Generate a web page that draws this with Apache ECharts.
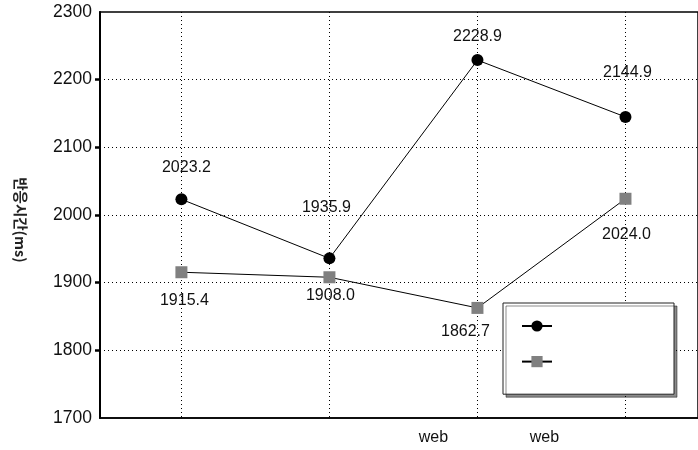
<!DOCTYPE html>
<html><head><meta charset="utf-8">
<script src="https://cdn.jsdelivr.net/npm/echarts@6/dist/echarts.min.js"></script>
<style>html,body{margin:0;padding:0;background:#fff}#c{width:698px;height:450px}</style>
</head><body><div id="c"></div>
<script>
// ---- data ----
const categoryIndex = [0, 1, 2, 3];
const xTickLabels = ['', '', 'web', 'web'];
const seriesNames = ['계열1', '계열2'];
const seriesA = [2023.2, 1935.9, 2228.9, 2144.9];
const seriesB = [1915.4, 1908.0, 1862.7, 2024.0];
const yMin = 1700, yMax = 2300, yStep = 100;
const yTickMarks = [1800, 1900, 2000, 2100, 2200];

// ---- styling helpers (label placement) ----
const labelOffsetA = [[5, -32], [-3, -51], [0, -24], [2, -44]];
const labelOffsetB = [[3, 28], [1, 18], [-12, 24], [1, 36]];
const xLabelShift = [0, 0, -44, -81];

const rich = {};
xLabelShift.forEach((s, i) => {
  rich['s' + i] = { fontSize: 16, color: '#111', fontFamily: 'Liberation Sans, Arial, sans-serif',
    padding: [0, Math.max(0, -2 * s), 0, Math.max(0, 2 * s)] };
});

function mk(vals, offs) {
  return vals.map((v, i) => ({ value: [categoryIndex[i], v], label: { offset: offs[i] } }));
}

const chart = echarts.init(document.getElementById('c'), null, { renderer: 'canvas' });
chart.setOption({
  animation: false,
  backgroundColor: '#fff',
  textStyle: { fontFamily: 'Liberation Sans, Arial, sans-serif' },
  grid: { left: 100, right: -2, top: 12, bottom: 32, show: true, borderColor: '#000', borderWidth: 1.5, backgroundColor: 'transparent' },
  legend: {
    left: 503, top: 303, orient: 'vertical',
    itemWidth: 30, itemHeight: 14, itemGap: 23,
    padding: [16, 121, 27, 18],
    backgroundColor: '#fff', borderColor: '#222', borderWidth: 1,
    shadowColor: 'rgba(0,0,0,0.45)', shadowOffsetX: 3, shadowOffsetY: 3, shadowBlur: 0,
    formatter: () => '',
    textStyle: { fontSize: 12 },
    data: seriesNames
  },
  xAxis: {
    type: 'value', min: -0.55, max: 3.49,
    axisLine: { show: true, onZero: false, lineStyle: { color: '#000', width: 1.5 } },
    axisTick: { show: false, customValues: categoryIndex },
    splitLine: { show: true, lineStyle: { color: '#000', type: [1, 3], width: 1 } },
    axisLabel: {
      customValues: categoryIndex, margin: 12,
      formatter: v => { const i = Math.round(v); return xTickLabels[i] ? '{s' + i + '|' + xTickLabels[i] + '}' : ''; },
      rich: rich
    }
  },
  yAxis: {
    type: 'value', min: yMin, max: yMax, interval: yStep,
    name: '반응시간(ms)', nameLocation: 'middle', nameRotate: -90, nameGap: 72,
    nameTextStyle: { fontFamily: 'Noto Sans CJK KR', fontWeight: 'bold', fontSize: 14.5, color: '#222', padding: [0, 0, 0, 10] },
    axisLine: { show: true, onZero: false, lineStyle: { color: '#000', width: 2 } },
    axisTick: { show: true, inside: false, length: 5, customValues: yTickMarks, lineStyle: { color: '#000', width: 2.5 } },
    axisLabel: { fontSize: 17.5, color: '#111', margin: 8, formatter: v => String(v) },
    splitLine: { show: true, lineStyle: { color: '#000', type: [1, 3], width: 1 } }
  },
  series: [
    {
      name: seriesNames[0], type: 'line', symbol: 'circle', symbolSize: 12,
      itemStyle: { color: '#000' }, lineStyle: { color: '#000', width: 1 },
      label: { show: true, position: 'inside', fontSize: 16, color: '#111', formatter: p => p.value[1].toFixed(1) },
      data: mk(seriesA, labelOffsetA), z: 3
    },
    {
      name: seriesNames[1], type: 'line', symbol: 'rect', symbolSize: 12,
      itemStyle: { color: '#808080' }, lineStyle: { color: '#000', width: 1 },
      label: { show: true, position: 'inside', fontSize: 16, color: '#111', formatter: p => p.value[1].toFixed(1) },
      data: mk(seriesB, labelOffsetB), z: 2
    }
  ]
});
</script>
</body></html>
